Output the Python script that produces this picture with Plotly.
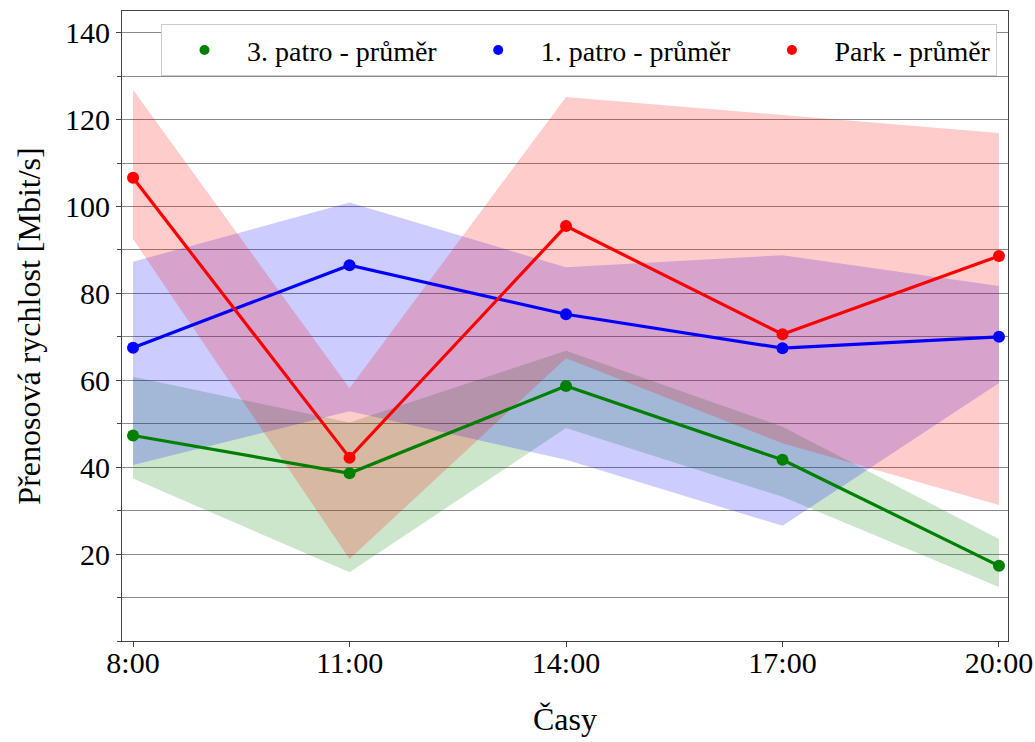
import plotly.graph_objects as go

# Measurement times (hours) and their tick labels
hours = [8, 11, 14, 17, 20]
time_labels = ["8:00", "11:00", "14:00", "17:00", "20:00"]

# 3. patro
floor3_mean = [47.3, 38.6, 58.7, 41.7, 17.3]
floor3_upper = [60.8, 50.3, 66.8, 49.3, 23.5]
floor3_lower = [37.4, 15.8, 49.0, 33.2, 12.4]

# 1. patro
floor1_mean = [67.5, 86.5, 75.2, 67.4, 70.0]
floor1_upper = [87.3, 100.9, 86.0, 88.8, 81.7]
floor1_lower = [40.5, 52.9, 41.7, 26.5, 59.4]

# Park
park_mean = [106.6, 42.2, 95.5, 70.6, 88.6]
park_upper = [126.9, 58.2, 125.2, 121.0, 116.9]
park_lower = [92.5, 18.9, 65.1, 45.5, 31.3]

series = [
    ("3. patro - průměr", floor3_mean, floor3_upper, floor3_lower, "green", "rgba(0,128,0,0.2)"),
    ("1. patro - průměr", floor1_mean, floor1_upper, floor1_lower, "blue", "rgba(0,0,255,0.2)"),
    ("Park - průměr", park_mean, park_upper, park_lower, "red", "rgba(255,0,0,0.2)"),
]

FONT = "Liberation Serif, Times New Roman, serif"
GRID = "#8a8a8a"
AXIS = "#444444"
NBSP = "\u00a0"

fig = go.Figure()

# Shaded min-max bands
for name, mean, upper, lower, color, fill in series:
    fig.add_trace(go.Scatter(
        x=hours + hours[::-1],
        y=upper + lower[::-1],
        fill="toself",
        fillcolor=fill,
        line=dict(width=0),
        mode="lines",
        hoverinfo="skip",
        showlegend=False,
    ))

# Mean lines with markers
for name, mean, upper, lower, color, fill in series:
    fig.add_trace(go.Scatter(
        x=hours, y=mean,
        mode="lines+markers",
        line=dict(color=color, width=3.2),
        marker=dict(color=color, size=12),
        name=name,
        showlegend=False,
    ))

# Legend entries (marker only); spacing between entries padded with blanks
for i, (name, mean, upper, lower, color, fill) in enumerate(series):
    pad = NBSP * 2 if i < len(series) - 1 else ""
    fig.add_trace(go.Scatter(
        x=[None], y=[None],
        mode="markers",
        marker=dict(color=color, size=10),
        name=name + pad,
    ))

fig.update_layout(
    width=1035, height=742,
    margin=dict(l=122, r=27, t=11, b=101),
    paper_bgcolor="white",
    plot_bgcolor="white",
    font=dict(family=FONT, size=30, color="black"),
    legend=dict(
        orientation="h",
        x=0.044, y=0.979,
        xanchor="left", yanchor="top",
        bgcolor="white",
        bordercolor="#cccccc",
        borderwidth=1,
        font=dict(family=FONT, size=28, color="black"),
        itemwidth=75,
    ),
    xaxis=dict(
        range=[7.847, 20.125],
        tickmode="array",
        tickvals=hours,
        ticktext=time_labels,
        ticks="outside",
        ticklen=5,
        tickcolor=AXIS,
        ticklabelstandoff=-10,
        showgrid=False,
        zeroline=False,
        showline=True,
        linecolor=AXIS,
        linewidth=1.2,
        mirror=True,
        automargin=False,
        tickfont=dict(family=FONT, size=30),
        title=dict(text="Časy", font=dict(family=FONT, size=32), standoff=29),
    ),
    yaxis=dict(
        range=[0, 145],
        tickmode="array",
        tickvals=[20, 40, 60, 80, 100, 120, 140],
        ticks="outside",
        ticklen=5,
        tickcolor=AXIS,
        showgrid=True,
        gridcolor=GRID,
        gridwidth=1,
        zeroline=False,
        showline=True,
        linecolor=AXIS,
        linewidth=1.2,
        mirror=True,
        automargin=False,
        minor=dict(
            tickmode="linear", tick0=0, dtick=10,
            showgrid=True, gridcolor=GRID, gridwidth=1,
            ticks="outside", ticklen=4, tickcolor=AXIS,
        ),
        tickfont=dict(family=FONT, size=30),
        title=dict(text="Přenosová rychlost [Mbit/s]", font=dict(family=FONT, size=32), standoff=14),
    ),
)

fig.write_html("out.html")
